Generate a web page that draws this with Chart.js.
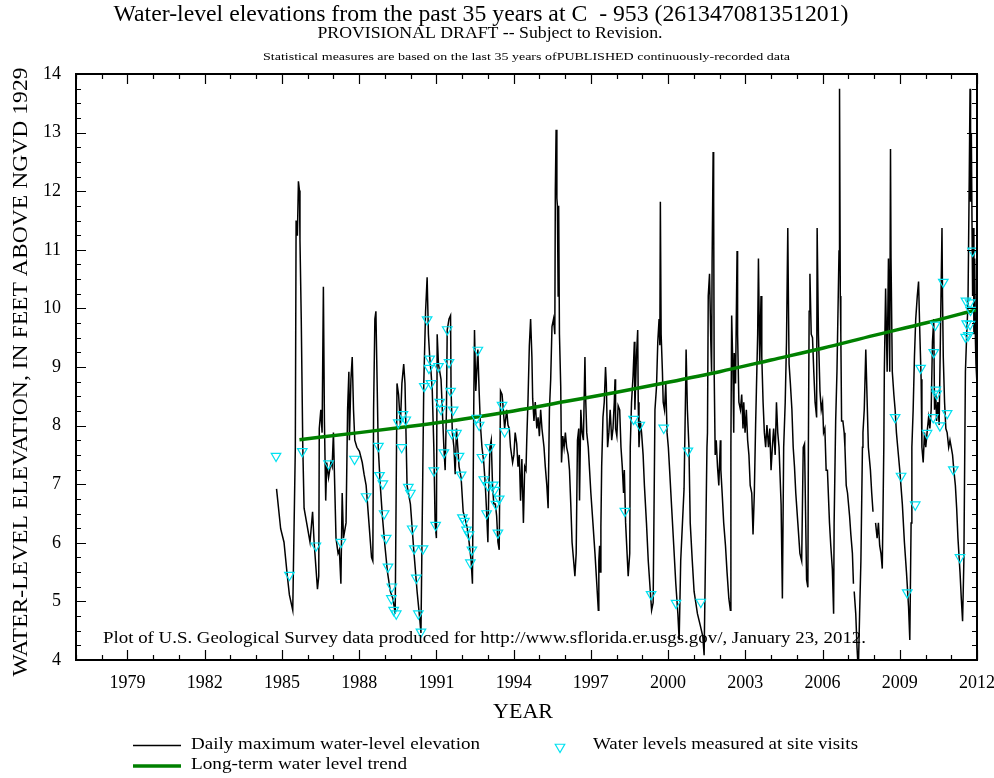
<!DOCTYPE html>
<html>
<head>
<meta charset="utf-8">
<title>Water-level elevations C-953</title>
<script src="https://cdn.jsdelivr.net/npm/chart.js@4.4.1/dist/chart.umd.min.js"></script>
<style>
  html, body { margin: 0; padding: 0; background: #fff; }
  canvas { display: block; }
</style>
</head>
<body>
<canvas id="chart" width="994" height="778"></canvas>
<script>
// daily maximum water level, [decimal year, feet]; null marks a gap in the record
const dailyRecord = [
  [1984.79, 6.92], [1984.95, 6.24], [1985.08, 6.01], [1985.21, 5.43], [1985.29, 5.11], [1985.42, 4.85],
  [1985.52, 7.63], [1985.55, 11.50], [1985.60, 11.24], [1985.64, 12.17], [1985.68, 12.01], [1985.70, 11.17],
  [1985.75, 9.82], [1985.81, 7.63], [1985.86, 6.59], [1985.96, 6.34], [1986.09, 6.01], [1986.19, 6.53],
  [1986.25, 6.01], [1986.38, 5.21], [1986.43, 5.43], [1986.45, 7.95], [1986.51, 8.27], [1986.56, 7.88],
  [1986.61, 10.37], [1986.65, 8.08], [1986.70, 6.72], [1986.74, 7.37], [1986.81, 7.11], [1986.90, 7.37],
  [1986.95, 7.30], [1987.00, 7.88], [1987.05, 6.98], [1987.10, 6.08], [1987.18, 5.82], [1987.23, 5.88],
  [1987.29, 5.30], [1987.34, 6.85], [1987.39, 6.08], [1987.49, 6.34], [1987.55, 8.27], [1987.60, 8.92],
  [1987.62, 7.75], [1987.68, 8.79], [1987.73, 9.17], [1987.78, 8.27], [1987.83, 7.75], [1987.91, 7.63],
  [1988.01, 7.56], [1988.12, 7.37], [1988.19, 7.17], [1988.27, 6.98], [1988.38, 6.34], [1988.48, 5.75],
  [1988.53, 5.69], [1988.56, 8.27], [1988.61, 9.82], [1988.65, 9.95], [1988.69, 8.92], [1988.74, 7.63],
  [1988.82, 6.98], [1988.90, 6.46], [1989.00, 5.95], [1989.10, 5.50], [1989.21, 5.17], [1989.31, 5.05],
  [1989.40, 4.79], [1989.47, 8.72], [1989.53, 8.53], [1989.60, 8.01], [1989.66, 8.72], [1989.73, 9.05],
  [1989.78, 8.72], [1989.83, 7.63], [1989.86, 6.98], [1989.99, 6.66], [1990.12, 5.88], [1990.25, 5.17],
  [1990.35, 4.72], [1990.40, 4.46], [1990.51, 8.72], [1990.58, 9.95], [1990.64, 10.53], [1990.69, 9.56],
  [1990.74, 9.17], [1990.79, 8.92], [1990.84, 8.59], [1990.90, 7.63], [1990.95, 6.34], [1991.00, 6.08],
  [1991.03, 9.56], [1991.08, 9.05], [1991.13, 8.92], [1991.18, 8.79], [1991.23, 8.27], [1991.29, 7.63],
  [1991.34, 7.24], [1991.39, 8.27], [1991.42, 9.63], [1991.49, 9.82], [1991.55, 9.88], [1991.57, 8.59],
  [1991.62, 7.88], [1991.68, 7.63], [1991.73, 7.17], [1991.78, 7.95], [1991.83, 7.63], [1991.88, 7.30],
  [1991.96, 7.11], [1992.04, 6.53], [1992.12, 6.40], [1992.19, 6.27], [1992.27, 6.01], [1992.35, 5.69],
  [1992.40, 5.30], [1992.45, 8.27], [1992.48, 9.63], [1992.53, 8.59], [1992.61, 9.30], [1992.66, 8.59],
  [1992.71, 8.01], [1992.77, 7.63], [1992.84, 7.37], [1992.90, 6.98], [1992.95, 6.53], [1993.00, 6.01],
  [1993.03, 6.79], [1993.08, 7.63], [1993.13, 7.75], [1993.18, 6.98], [1993.23, 6.66], [1993.29, 6.66],
  [1993.34, 6.46], [1993.39, 6.01], [1993.44, 5.88], [1993.49, 8.59], [1993.55, 8.53], [1993.60, 8.27],
  [1993.65, 7.95], [1993.73, 8.27], [1993.78, 8.01], [1993.83, 7.95], [1993.88, 7.63], [1993.96, 7.37],
  [1994.01, 7.50], [1994.06, 7.88], [1994.12, 7.69], [1994.17, 7.30], [1994.22, 7.50], [1994.27, 6.72],
  [1994.32, 7.43], [1994.38, 6.34], [1994.43, 7.30], [1994.48, 7.24], [1994.51, 7.75], [1994.56, 8.46],
  [1994.61, 9.36], [1994.66, 9.82], [1994.71, 9.17], [1994.74, 8.46], [1994.79, 8.08], [1994.84, 8.40],
  [1994.90, 7.95], [1994.95, 8.14], [1995.00, 7.82], [1995.05, 8.27], [1995.10, 7.95], [1995.18, 7.63],
  [1995.23, 7.30], [1995.29, 6.98], [1995.34, 6.59], [1995.39, 8.27], [1995.44, 8.79], [1995.49, 9.69],
  [1995.55, 9.82], [1995.60, 9.56], [1995.62, 12.01], [1995.65, 13.05], [1995.68, 11.88], [1995.70, 11.75],
  [1995.73, 10.21], [1995.75, 11.75], [1995.78, 9.56], [1995.83, 8.66], [1995.86, 7.37], [1995.91, 7.82],
  [1995.96, 7.63], [1996.01, 7.88], [1996.06, 7.63], [1996.12, 7.50], [1996.17, 7.24], [1996.22, 6.66],
  [1996.27, 6.01], [1996.32, 5.75], [1996.38, 5.43], [1996.43, 5.82], [1996.48, 7.75], [1996.53, 7.95],
  [1996.56, 6.72], [1996.61, 8.27], [1996.66, 7.88], [1996.71, 7.75], [1996.77, 9.17], [1996.79, 8.59],
  [1996.84, 7.88], [1996.90, 7.63], [1996.95, 7.24], [1997.00, 6.85], [1997.08, 6.34], [1997.16, 5.82],
  [1997.23, 5.30], [1997.29, 4.85], [1997.31, 5.69], [1997.34, 5.95], [1997.36, 5.50], [1997.39, 6.27],
  [1997.42, 7.30], [1997.47, 8.14], [1997.52, 8.40], [1997.57, 9.00], [1997.60, 8.72], [1997.65, 7.63],
  [1997.70, 7.88], [1997.75, 8.27], [1997.81, 7.75], [1997.86, 7.95], [1997.91, 8.40], [1997.94, 8.79],
  [1997.96, 7.95], [1998.01, 7.82], [1998.06, 8.34], [1998.12, 8.27], [1998.17, 7.63], [1998.22, 7.30],
  [1998.27, 6.85], [1998.30, 7.24], [1998.35, 6.34], [1998.40, 5.88], [1998.45, 5.43], [1998.51, 5.82],
  [1998.53, 7.63], [1998.58, 8.40], [1998.64, 8.85], [1998.69, 9.43], [1998.71, 8.27], [1998.77, 9.17],
  [1998.82, 9.63], [1998.84, 8.40], [1998.87, 7.63], [1998.92, 8.08], [1998.97, 7.88], [1999.03, 7.50],
  [1999.08, 6.98], [1999.16, 6.34], [1999.23, 5.69], [1999.31, 5.17], [1999.36, 4.85], [1999.42, 4.98],
  [1999.49, 8.27], [1999.55, 8.66], [1999.60, 9.43], [1999.65, 9.82], [1999.68, 9.37], [1999.70, 11.82],
  [1999.73, 9.56], [1999.78, 8.92], [1999.81, 8.40], [1999.86, 8.27], [1999.91, 8.72], [1999.96, 7.88],
  [2000.01, 7.63], [2000.06, 7.24], [2000.14, 6.59], [2000.22, 5.95], [2000.30, 5.30], [2000.38, 4.79],
  [2000.43, 4.34], [2000.49, 5.69], [2000.62, 6.92], [2000.68, 8.59], [2000.70, 9.30], [2000.75, 8.27],
  [2000.81, 7.63], [2000.86, 6.34], [2000.94, 5.69], [2001.01, 5.17], [2001.14, 4.79], [2001.25, 4.59],
  [2001.35, 4.40], [2001.40, 4.08], [2001.45, 5.69], [2001.51, 7.63], [2001.53, 7.88], [2001.56, 10.21],
  [2001.61, 10.59], [2001.66, 9.43], [2001.69, 8.92], [2001.71, 10.79], [2001.75, 12.67], [2001.77, 11.82],
  [2001.79, 8.92], [2001.83, 7.50], [2001.87, 7.75], [2001.92, 7.30], [2001.97, 6.98], [2002.03, 7.75],
  [2002.05, 7.24], [2002.10, 6.85], [2002.16, 6.34], [2002.23, 5.95], [2002.29, 5.50], [2002.36, 5.05],
  [2002.42, 4.85], [2002.44, 7.63], [2002.47, 9.88], [2002.52, 8.92], [2002.55, 7.88], [2002.57, 9.24],
  [2002.62, 8.72], [2002.68, 10.98], [2002.70, 9.56], [2002.75, 8.40], [2002.81, 8.27], [2002.86, 8.53],
  [2002.91, 7.95], [2002.94, 8.40], [2002.99, 7.88], [2003.04, 8.27], [2003.09, 7.75], [2003.14, 7.50],
  [2003.19, 6.98], [2003.25, 6.85], [2003.30, 6.14], [2003.35, 6.85], [2003.40, 8.01], [2003.43, 8.59],
  [2003.48, 9.56], [2003.51, 10.85], [2003.56, 9.05], [2003.61, 10.21], [2003.64, 9.17], [2003.69, 8.40],
  [2003.74, 7.88], [2003.79, 7.63], [2003.84, 8.01], [2003.90, 7.63], [2003.95, 7.95], [2004.00, 7.24],
  [2004.05, 7.63], [2004.10, 7.95], [2004.16, 7.50], [2004.21, 8.40], [2004.26, 7.88], [2004.31, 7.63],
  [2004.39, 6.66], [2004.44, 5.05], [2004.49, 7.63], [2004.55, 8.40], [2004.60, 9.43], [2004.65, 11.37],
  [2004.68, 9.88], [2004.70, 9.05], [2004.75, 8.72], [2004.81, 8.27], [2004.86, 7.63], [2004.91, 7.30],
  [2004.96, 6.85], [2005.04, 6.34], [2005.12, 5.82], [2005.19, 5.69], [2005.25, 7.63], [2005.30, 7.69],
  [2005.38, 5.37], [2005.43, 5.24], [2005.45, 7.63], [2005.48, 9.95], [2005.51, 10.59], [2005.56, 9.56],
  [2005.61, 9.50], [2005.66, 8.92], [2005.71, 8.40], [2005.77, 8.14], [2005.79, 11.37], [2005.84, 9.56],
  [2005.90, 8.59], [2005.95, 8.27], [2006.00, 8.40], [2006.04, 7.88], [2006.09, 7.95], [2006.14, 7.24],
  [2006.19, 7.24], [2006.27, 6.34], [2006.32, 5.95], [2006.38, 5.56], [2006.43, 4.79], [2006.45, 6.34],
  [2006.51, 8.08], [2006.56, 8.92], [2006.58, 9.43], [2006.64, 10.98], [2006.66, 13.75], [2006.69, 10.21],
  [2006.71, 9.56], [2006.74, 8.08], [2006.79, 8.08], [2006.84, 7.88], [2006.87, 7.63], [2006.92, 6.98],
  [2006.97, 6.85], [2007.05, 6.46], [2007.10, 6.14], [2007.16, 5.82], [2007.20, 5.30], [2007.215, null],
  [2007.23, 5.17], [2007.29, 4.79], [2007.34, 4.21], [2007.39, 3.80], [2007.44, 4.79], [2007.49, 5.69],
  [2007.55, 7.63], [2007.57, 7.88], [2007.62, 8.27], [2007.68, 9.30], [2007.73, 8.46], [2007.78, 7.63],
  [2007.86, 7.24], [2007.91, 6.85], [2007.96, 6.53], [2008.01, null], [2008.06, 6.34], [2008.12, 6.08],
  [2008.17, 6.34], [2008.22, 5.95], [2008.27, 5.82], [2008.32, 5.56], [2008.38, 7.63], [2008.40, 8.92],
  [2008.45, 10.34], [2008.51, 8.92], [2008.56, 10.85], [2008.61, 8.92], [2008.64, 12.72], [2008.66, 10.85],
  [2008.71, 8.92], [2008.77, 8.53], [2008.82, 8.27], [2008.87, 7.88], [2008.92, 7.63], [2009.00, 7.24],
  [2009.10, 6.66], [2009.18, 6.01], [2009.26, 5.50], [2009.34, 4.92], [2009.39, 4.34], [2009.44, 6.34],
  [2009.47, 7.63], [2009.52, 8.27], [2009.57, 9.17], [2009.62, 9.82], [2009.68, 10.21], [2009.73, 10.46],
  [2009.78, 9.56], [2009.83, 8.79], [2009.86, 7.63], [2009.91, 7.37], [2009.96, 7.88], [2010.01, 7.63],
  [2010.06, 7.88], [2010.12, 8.14], [2010.17, 7.95], [2010.22, 8.27], [2010.27, 9.43], [2010.32, 9.82],
  [2010.35, 8.27], [2010.40, 8.53], [2010.43, 8.08], [2010.48, 8.40], [2010.53, 8.01], [2010.58, 9.56],
  [2010.64, 11.37], [2010.66, 10.21], [2010.69, 9.17], [2010.74, 8.40], [2010.79, 7.95], [2010.84, 7.88],
  [2010.90, 7.63], [2010.95, 7.75], [2011.00, 7.63], [2011.05, 7.50], [2011.10, 7.24], [2011.16, 6.98],
  [2011.21, 6.59], [2011.26, 6.08], [2011.34, 5.50], [2011.39, 5.05], [2011.44, 4.66], [2011.49, 5.69],
  [2011.55, 8.92], [2011.60, 9.56], [2011.65, 10.08], [2011.70, 12.27], [2011.73, 13.75], [2011.75, 11.82],
  [2011.78, 12.98], [2011.81, 11.24], [2011.83, 10.21], [2011.86, 11.37], [2011.88, 9.56], [2011.91, 10.85],
  [2011.94, 9.43], [2011.96, 9.05], [2012.00, 8.70]
];

// field measurements at site visits, [decimal year, feet]
const siteVisits = [
  [1984.77, 7.48], [1985.29, 5.45], [1985.79, 7.56], [1986.32, 5.95], [1986.81, 7.35], [1987.29, 6.01],
  [1987.82, 7.43], [1988.27, 6.79], [1988.75, 7.65], [1988.79, 7.15], [1988.92, 7.01], [1988.97, 6.50],
  [1989.05, 6.08], [1989.12, 5.59], [1989.27, 5.25], [1989.25, 5.05], [1989.34, 4.85], [1989.44, 4.79],
  [1989.52, 8.05], [1989.65, 7.63], [1989.70, 8.19], [1989.81, 8.10], [1989.91, 6.95], [1989.99, 6.85],
  [1990.06, 6.24], [1990.14, 5.90], [1990.48, 5.90], [1990.22, 5.40], [1990.30, 4.79], [1990.40, 4.48],
  [1990.64, 9.81], [1990.74, 9.14], [1990.71, 8.98], [1990.53, 8.67], [1990.79, 8.72], [1990.90, 7.23],
  [1990.97, 6.30], [1991.08, 9.01], [1991.13, 8.40], [1991.18, 8.28], [1991.29, 7.54], [1991.42, 9.64],
  [1991.49, 9.08], [1991.55, 8.59], [1991.65, 8.27], [1991.60, 7.87], [1991.78, 7.87], [1991.88, 7.48],
  [1991.96, 7.16], [1992.01, 6.43], [1992.09, 6.37], [1992.17, 6.22], [1992.27, 6.14], [1992.38, 5.88],
  [1992.32, 5.66], [1992.61, 9.29], [1992.56, 8.13], [1992.66, 8.01], [1992.77, 7.46], [1992.84, 7.08],
  [1992.95, 6.50], [1993.00, 6.98], [1993.08, 7.63], [1993.21, 6.99], [1993.26, 6.90], [1993.31, 6.66],
  [1993.39, 6.17], [1993.44, 6.75], [1993.55, 8.35], [1993.65, 7.90],
  [1998.32, 6.54], [1998.66, 8.11], [1998.90, 8.01], [1999.34, 5.12], [1999.83, 7.96], [2000.31, 4.97],
  [2000.77, 7.57], [2001.27, 4.99],
  [2008.82, 8.14], [2009.05, 7.14], [2009.29, 5.15], [2009.60, 6.65], [2009.81, 8.98], [2010.06, 7.87],
  [2010.30, 8.14], [2010.32, 9.25], [2010.38, 9.72], [2010.40, 8.61], [2010.43, 8.54], [2010.56, 8.00],
  [2010.69, 10.45], [2010.84, 8.21], [2011.08, 7.25], [2011.34, 5.75], [2011.57, 10.13], [2011.73, 10.10],
  [2011.75, 9.97], [2011.60, 9.74], [2011.73, 9.73], [2011.56, 9.51], [2011.66, 9.54], [2011.83, 10.98]
];

// long-term trend curve
const trendYears = [1985.68, 1988, 1990, 1992, 1994, 1996, 1998, 2000, 2002, 2004, 2006, 2008, 2010, 2012];
const trendLevels = [7.76, 7.88, 7.99, 8.11, 8.25, 8.41, 8.57, 8.74, 8.92, 9.12, 9.32, 9.54, 9.75, 9.98];

const yearTicks = [1979, 1982, 1985, 1988, 1991, 1994, 1997, 2000, 2003, 2006, 2009, 2012];

const SERIF = '"Liberation Serif", "DejaVu Serif", serif';
const CYAN = 'rgb(0, 225, 240)';
const GREEN = 'rgb(0, 128, 0)';

// draws text squeezed/stretched to a given width (the original uses a condensed Times)
function fitText(ctx, str, x, y, width, size, align) {
  ctx.save();
  ctx.font = size + 'px ' + SERIF;
  ctx.textBaseline = 'middle';
  ctx.textAlign = align || 'left';
  const k = width / ctx.measureText(str).width;
  ctx.translate(x, y);
  ctx.scale(k, 1);
  ctx.fillText(str, 0, 0);
  ctx.restore();
}

function downTriangle(ctx, x, y, r) {
  ctx.beginPath();
  ctx.moveTo(x, y + r);
  ctx.lineTo(x - r * 0.866, y - r / 2);
  ctx.lineTo(x + r * 0.866, y - r / 2);
  ctx.closePath();
  ctx.stroke();
}

const decorations = {
  id: 'decorations',
  afterDatasetsDraw(chart) {
    const { ctx, chartArea: a, scales: { x, y } } = chart;
    ctx.save();
    ctx.strokeStyle = '#000';

    // inward tick marks on all four sides
    ctx.lineWidth = 1.2;
    ctx.beginPath();
    for (let yr = 1977; yr <= 2012; yr++) {
      const px = Math.round(x.getPixelForValue(yr)) + 0.5;
      const len = yearTicks.includes(yr) ? 10 : 5;
      ctx.moveTo(px, a.bottom); ctx.lineTo(px, a.bottom - len);
      ctx.moveTo(px, a.top); ctx.lineTo(px, a.top + len);
    }
    for (let v = 4; v <= 14.001; v += 0.25) {
      const py = Math.round(y.getPixelForValue(v)) + 0.5;
      const len = Math.abs(v - Math.round(v)) < 0.01 ? 10 : 5;
      ctx.moveTo(a.left, py); ctx.lineTo(a.left + len, py);
      ctx.moveTo(a.right, py); ctx.lineTo(a.right - len, py);
    }
    ctx.stroke();

    // frame
    ctx.lineWidth = 2;
    ctx.strokeRect(a.left, a.top, a.right - a.left, a.bottom - a.top);
    ctx.restore();

    ctx.save();
    ctx.fillStyle = '#000';
    fitText(ctx, 'Water-level elevations from the past 35 years at C  - 953 (261347081351201)', 481, 15, 735, 23, 'center');
    fitText(ctx, 'PROVISIONAL DRAFT -- Subject to Revision.', 490, 34, 345, 16, 'center');
    fitText(ctx, 'Statistical measures are based on the last 35 years ofPUBLISHED continuously-recorded data', 263, 57, 527, 11, 'left');
    fitText(ctx, 'Plot of U.S. Geological Survey data produced for http://www.sflorida.er.usgs.gov/, January 23, 2012.', 103, 639, 763, 17, 'left');
    fitText(ctx, 'YEAR', 523, 712, 60, 22, 'center');

    ctx.save();
    ctx.translate(21, 372);
    ctx.rotate(-Math.PI / 2);
    fitText(ctx, 'WATER-LEVEL ELEVATION, IN FEET ABOVE NGVD 1929', 0, 0, 609, 22, 'center');
    ctx.restore();

    // legend
    ctx.lineWidth = 1.5;
    ctx.strokeStyle = '#000';
    ctx.beginPath(); ctx.moveTo(133, 745.5); ctx.lineTo(181, 745.5); ctx.stroke();
    ctx.lineWidth = 3.5;
    ctx.strokeStyle = GREEN;
    ctx.beginPath(); ctx.moveTo(133, 766); ctx.lineTo(181, 766); ctx.stroke();
    ctx.lineWidth = 1.2;
    ctx.strokeStyle = CYAN;
    downTriangle(ctx, 560, 747, 5.5);
    fitText(ctx, 'Daily maximum water-level elevation', 191, 745, 289, 17, 'left');
    fitText(ctx, 'Long-term water level trend', 191, 765, 216, 17, 'left');
    fitText(ctx, 'Water levels measured at site visits', 593, 745, 265, 17, 'left');
    ctx.restore();
  }
};

Chart.defaults.font.family = SERIF;
Chart.defaults.color = '#000';

new Chart(document.getElementById('chart'), {
  type: 'line',
  data: {
    datasets: [
      {
        label: 'Water levels measured at site visits',
        data: siteVisits.map(([yr, v]) => ({ x: yr, y: v })),
        showLine: false,
        pointStyle: 'triangle',
        rotation: 180,
        pointRadius: 5.5,
        pointBorderWidth: 1.2,
        pointBorderColor: CYAN,
        pointBackgroundColor: 'rgba(0,0,0,0)'
      },
      {
        label: 'Long-term water level trend',
        data: trendYears.map((yr, i) => ({ x: yr, y: trendLevels[i] })),
        borderColor: GREEN,
        borderWidth: 3.5,
        pointRadius: 0,
        cubicInterpolationMode: 'monotone'
      },
      {
        label: 'Daily maximum water-level elevation',
        data: dailyRecord.map(([yr, v]) => ({ x: yr, y: v })),
        borderColor: '#000',
        borderWidth: 1.5,
        pointRadius: 0,
        spanGaps: false,
        tension: 0
      }
    ]
  },
  options: {
    responsive: false,
    animation: false,
    devicePixelRatio: 1,
    layout: { padding: { top: 74, right: 17, left: 0, bottom: 0 } },
    plugins: {
      legend: { display: false },
      tooltip: { enabled: false }
    },
    scales: {
      x: {
        type: 'linear',
        min: 1977,
        max: 2012,
        afterBuildTicks: (s) => { s.ticks = yearTicks.map(v => ({ value: v })); },
        afterFit: (s) => { s.height = 118; s.paddingLeft = 0; s.paddingRight = 0; },
        ticks: {
          font: { size: 18 },
          color: '#000',
          padding: 12,
          maxRotation: 0,
          autoSkip: false,
          callback: (v) => String(v)
        },
        grid: { display: false, drawTicks: false },
        border: { display: false }
      },
      y: {
        min: 4,
        max: 14,
        afterFit: (s) => { s.width = 76; s.paddingTop = 0; s.paddingBottom = 0; },
        ticks: {
          stepSize: 1,
          font: { size: 18 },
          color: '#000',
          padding: 15
        },
        grid: { display: false, drawTicks: false },
        border: { display: false }
      }
    }
  },
  plugins: [decorations]
});
</script>
</body>
</html>
